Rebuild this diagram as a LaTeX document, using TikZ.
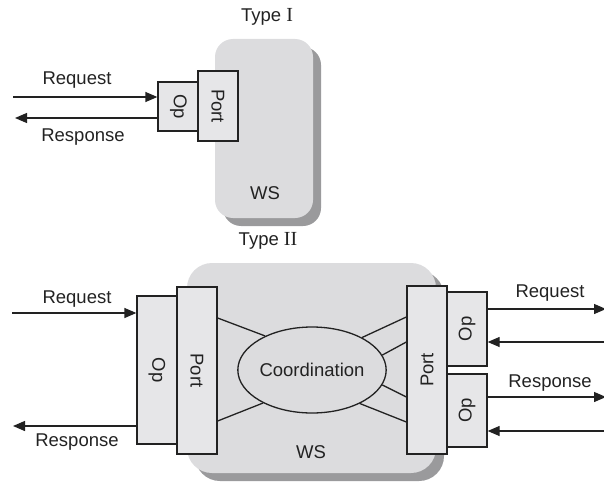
\documentclass[tikz,border=0pt]{standalone}
\usepackage{fontspec}
\usepackage{graphicx}
\setmainfont{Liberation Sans}
\newfontfamily\numfont[Scale=1.08]{Liberation Serif}
\usetikzlibrary{arrows.meta,shapes.geometric,shadows}

\definecolor{wsfill}{HTML}{DCDCDE}
\definecolor{wsshadow}{HTML}{9A9A9C}
\definecolor{boxfill}{HTML}{E6E6E8}
\definecolor{ink}{HTML}{222222}

\tikzset{
  ws/.style={fill=wsfill, draw=none, inner sep=0pt,
    drop shadow={shadow xshift=8pt, shadow yshift=-8pt, fill=wsshadow, opacity=1}},
  pbox/.style={rectangle, draw=ink, fill=boxfill, line width=1.3pt, inner sep=0pt},
  flow/.style={draw=ink, line width=1.3pt, -{Triangle[length=12pt,width=10pt]}},
  link/.style={draw=ink, line width=1.3pt},
  lbl/.style={text=ink, inner sep=0pt},
}

\begin{document}
\begin{tikzpicture}[x=1pt, y=-1pt, font=\fontsize{18.5}{21}\selectfont, text=ink]
\useasboundingbox (0,0) rectangle (604,484);

% ---------------- Type I ----------------
\node[lbl] (t1) at (267,17) {Type {\numfont I}};
\node[ws, rounded corners=18pt, minimum width=98pt, minimum height=179pt] (ws1) at (264,128.5) {};
\node[lbl] (ws1t) at (265,193) {WS};
\node[pbox, minimum width=41pt, minimum height=49pt] (op1) at (178.5,106.5) {\rotatebox{-90}{Op}};
\node[pbox, minimum width=40pt, minimum height=70pt] (port1) at (218,106) {\rotatebox{-90}{Port}};

\coordinate (in1) at (13,97);
\coordinate (out1) at (15,118);
\draw[flow] (in1) -- (in1 -| op1.west);
\draw[flow] (out1 -| op1.west) -- (out1);
\node[lbl] (req1) at (77,80) {Request};
\node[lbl] (res1) at (83,137) {Response};

% ---------------- Type II ----------------
\node[lbl] (t2) at (268,241) {Type {\numfont II}};
\node[ws, rounded corners=25pt, minimum width=249pt, minimum height=210pt] (ws2) at (311.5,368) {};
\node[lbl] (ws2t) at (311,452) {WS};

\node[pbox, minimum width=40pt, minimum height=148pt] (opL) at (157,370) {\rotatebox{-90}{Op}};
\node[pbox, minimum width=40pt, minimum height=167pt] (portL) at (197,370.5) {\rotatebox{-90}{Port}};

\node[ellipse, draw=ink, line width=1.3pt, minimum width=134pt, minimum height=86pt, inner sep=0pt] (coord) at (312,370) {Coordination};

\node[pbox, minimum width=40pt, minimum height=168pt] (portR) at (427,370) {\rotatebox{90}{Port}};
\node[pbox, minimum width=40pt, minimum height=74pt] (opRa) at (467,329) {\rotatebox{90}{Op}};
\node[pbox, minimum width=40pt, minimum height=73pt] (opRb) at (467,410.5) {\rotatebox{90}{Op}};

% links between the ports and the coordination
\draw[link] ([yshift=52.5pt]portL.east) -- (coord.144.6);
\draw[link] ([yshift=-50.5pt]portL.east) -- (coord.214.3);
\draw[link] ([yshift=53pt]portR.west) -- (coord.33.4);
\draw[link] ([yshift=28pt]portR.west) -- (coord.12.3);
\draw[link] ([yshift=-27pt]portR.west) -- (coord.348.5);
\draw[link] ([yshift=-52pt]portR.west) -- (coord.325.8);

% left-hand messages
\coordinate (in2) at (12,313);
\coordinate (out2) at (13,426);
\draw[flow] (in2) -- (in2 -| opL.west);
\draw[flow] (out2 -| opL.west) -- (out2);
\node[lbl] (req2) at (77,299) {Request};
\node[lbl] (res2) at (77,442) {Response};

% right-hand messages
\coordinate (o3) at (606,309);
\coordinate (i3) at (606,342);
\coordinate (o4) at (606,397);
\coordinate (i4) at (606,431);
\draw[flow] (o3 -| opRa.east) -- (o3);
\draw[flow] (i3) -- (i3 -| opRa.east);
\draw[flow] (o4 -| opRb.east) -- (o4);
\draw[flow] (i4) -- (i4 -| opRb.east);
\node[lbl] (req3) at (550,293) {Request};
\node[lbl] (res3) at (550,383) {Response};
\end{tikzpicture}
\end{document}
